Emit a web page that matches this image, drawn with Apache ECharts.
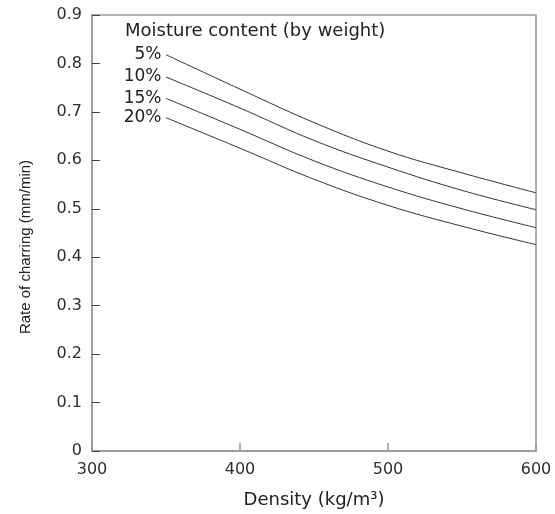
<!DOCTYPE html>
<html><head><meta charset="utf-8">
<script src="https://cdn.jsdelivr.net/npm/echarts@6/dist/echarts.min.js"></script>
<style>html,body{margin:0;padding:0;background:#fff}#c{width:555px;height:514px}</style>
</head><body><div id="c"></div>
<script>
const density = [350, 400, 450, 500, 550, 600];
const m5  = [0.818, 0.747, 0.678, 0.619, 0.574, 0.533];
const m10 = [0.772, 0.708, 0.641, 0.586, 0.538, 0.498];
const m15 = [0.728, 0.664, 0.599, 0.545, 0.500, 0.461];
const m20 = [0.688, 0.625, 0.561, 0.507, 0.464, 0.426];
const seriesNames = ['5%', '10%', '15%', '20%'];
const legendTitle = 'Moisture content (by weight)';
const xTitle = 'Density (kg/m\u00B3)';
const yTitle = 'Rate of charring (mm/min)';

const wide = 'DejaVu Sans, Verdana, sans-serif';
const narrow = 'Liberation Sans, Arial, Helvetica, sans-serif';
function mk(name, vals) {
  return {
    type: 'line', name: name, smooth: 0.4,
    symbol: 'circle', symbolSize: 1, showSymbol: true,
    itemStyle: { color: 'rgba(0,0,0,0)' },
    lineStyle: { color: '#333', width: 1 },
    data: density.map((d, i) => {
      const p = { value: [d, vals[i]] };
      if (i === 0) p.label = { show: true, position: 'left', distance: 4, formatter: name,
        color: '#222', fontSize: 17, fontFamily: wide };
      return p;
    }),
    label: { show: false }
  };
}
const chart = echarts.init(document.getElementById('c'), null, { renderer: 'canvas' });
chart.setOption({
  animation: false,
  grid: { left: 92, right: 19, top: 15, bottom: 62, show: true, borderColor: '#999', borderWidth: 1.5 },
  xAxis: {
    type: 'value', min: 300, max: 600, interval: 100,
    name: xTitle, nameLocation: 'middle', nameGap: 40,
    nameTextStyle: { color: '#222', fontSize: 18, fontFamily: wide },
    axisLine: { show: true, lineStyle: { color: '#999', width: 1.5 } },
    axisTick: { show: true, inside: true, length: 8, lineStyle: { color: '#999', width: 1.5 } },
    axisLabel: { color: '#2e2e2e', fontSize: 16, fontFamily: wide, margin: 11 },
    splitLine: { show: false }
  },
  yAxis: {
    type: 'value', min: 0, max: 0.9, interval: 0.1,
    name: yTitle, nameLocation: 'middle', nameGap: 59, nameRotate: 90,
    nameTextStyle: { color: '#222', fontSize: 15, fontFamily: narrow, padding: [0, 28, 0, 0] },
    axisLine: { show: true, lineStyle: { color: '#999', width: 1.5 } },
    axisTick: { show: true, inside: true, length: 8, lineStyle: { color: '#444', width: 1 } },
    axisLabel: { color: '#2e2e2e', fontSize: 16, fontFamily: wide, margin: 10,
      formatter: v => (v === 0 ? '0' : v.toFixed(1)) },
    splitLine: { show: false }
  },
  graphic: [{ type: 'text', x: 125, y: 31,
    style: { text: legendTitle, fill: '#222', fontSize: 18, fontFamily: wide, verticalAlign: 'middle' } }],
  series: [mk(seriesNames[0], m5), mk(seriesNames[1], m10), mk(seriesNames[2], m15), mk(seriesNames[3], m20)]
});
</script></body></html>
